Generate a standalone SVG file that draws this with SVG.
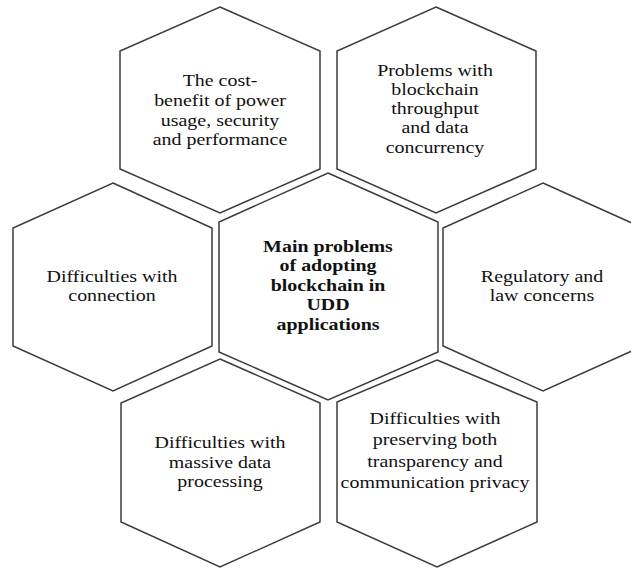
<svg xmlns="http://www.w3.org/2000/svg" width="631" height="568" viewBox="0 0 631 568">
<style>
.hex{fill:#fff;stroke:#3c3c3c;stroke-width:1.5}
.t{font-family:"Liberation Serif","Times New Roman",serif;font-size:17.5px;fill:#111;text-anchor:middle}
.b{font-weight:bold}
</style>
<rect width="631" height="568" fill="#fff"/>
<g id="connectors"></g>
<g id="hex-cost">
<polygon class="hex" points="220,7 320,51 320,169 220,213 120,169 120,51"/>
<g transform="translate(220,0) scale(1.14,1)"><text class="t"><tspan x="0" y="86">The cost-</tspan><tspan x="0" y="106">benefit of power</tspan><tspan x="0" y="126">usage, security</tspan><tspan x="0" y="145">and performance</tspan></text></g>
</g>
<g id="hex-throughput">
<polygon class="hex" points="436,7 536,51 536,169 436,213 337,169 337,51"/>
<g transform="translate(435,0) scale(1.14,1)"><text class="t"><tspan x="0" y="76">Problems with</tspan><tspan x="0" y="95">blockchain</tspan><tspan x="0" y="114">throughput</tspan><tspan x="0" y="133">and data</tspan><tspan x="0" y="153">concurrency</tspan></text></g>
</g>
<g id="hex-connection">
<polygon class="hex" points="113,183 212,228 212,346 113,391 13,346 13,228"/>
<g transform="translate(112,0) scale(1.14,1)"><text class="t"><tspan x="0" y="282">Difficulties with</tspan><tspan x="0" y="301">connection</tspan></text></g>
</g>
<g id="hex-main">
<polygon class="hex" points="328,173 438,222 438,352 328,400 219,352 219,222"/>
<g transform="translate(328,0) scale(1.14,1)"><text class="t b"><tspan x="0" y="252">Main problems</tspan><tspan x="0" y="271">of adopting</tspan><tspan x="0" y="291">blockchain in</tspan><tspan x="0" y="310">UDD</tspan><tspan x="0" y="330">applications</tspan></text></g>
</g>
<g id="hex-regulatory">
<polygon class="hex" points="543,183 643,228 643,346 543,391 443,346 443,228"/>
<g transform="translate(542,0) scale(1.14,1)"><text class="t"><tspan x="0" y="282">Regulatory and</tspan><tspan x="0" y="301">law concerns</tspan></text></g>
</g>
<g id="hex-massive">
<polygon class="hex" points="220,359 320,403 320,522 220,567 121,522 121,403"/>
<g transform="translate(220,0) scale(1.14,1)"><text class="t"><tspan x="0" y="448">Difficulties with</tspan><tspan x="0" y="468">massive data</tspan><tspan x="0" y="487">processing</tspan></text></g>
</g>
<g id="hex-privacy">
<polygon class="hex" points="437,360 537,402 537,522 437,567 337,522 337,402"/>
<g transform="translate(435,0) scale(1.14,1)"><text class="t"><tspan x="0" y="424">Difficulties with</tspan><tspan x="0" y="445">preserving both</tspan><tspan x="0" y="467">transparency and</tspan><tspan x="0" y="488">communication privacy</tspan></text></g>
</g>
</svg>
